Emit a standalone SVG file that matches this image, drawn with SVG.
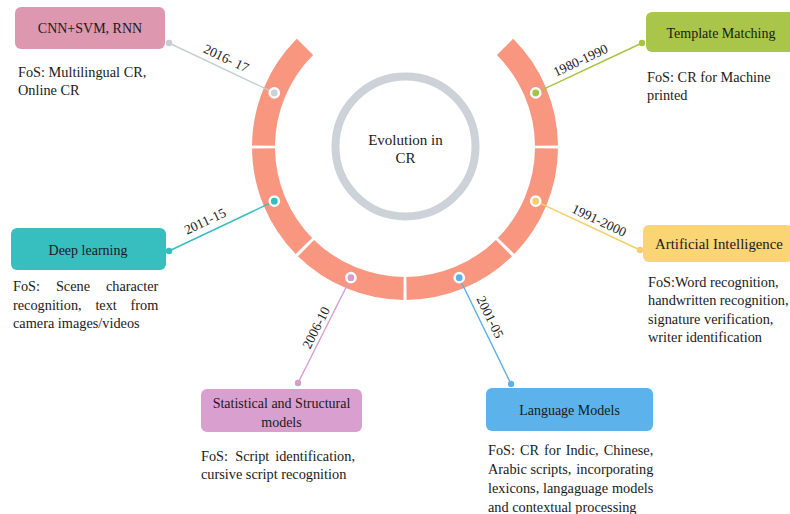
<svg xmlns="http://www.w3.org/2000/svg" width="790" height="514" viewBox="0 0 790 514">
  <style>
    text { font-family: "Liberation Serif", "Times New Roman", serif; fill: #1a1a1a; }
    .lbl { font-size: 14px; text-anchor: middle; }
    .fos { font-size: 14.3px; }
    .yr { font-size: 13.5px; text-anchor: middle; }
    .seg { fill: none; stroke: #F9967F; stroke-width: 23; }
    .conn { stroke-width: 1.4; fill: none; }
    .hub { stroke: #ffffff; stroke-width: 2.5; }
  </style>

  <rect width="790" height="514" fill="#ffffff"/>

  <!-- central hub -->
  <g id="hub">
    <circle cx="405.5" cy="146.5" r="70" fill="none" stroke="#CDD1D8" stroke-width="8"/>
    <text class="lbl" x="405.5" y="145" style="font-size:15px">Evolution in</text>
    <text class="lbl" x="405.5" y="163" style="font-size:15px">CR</text>
  </g>

  <!-- timeline ring, six 45-degree segments -->
  <g id="ring">
    <path class="seg" d="M505.06,46.94 A141.5,141.5 0 0 1 546.49,145.52"/>
    <path class="seg" d="M546.49,148.48 A141.5,141.5 0 0 1 506.10,246.00"/>
    <path class="seg" d="M504.00,248.10 A141.5,141.5 0 0 1 406.48,288.49"/>
    <path class="seg" d="M403.52,288.49 A141.5,141.5 0 0 1 306.00,248.10"/>
    <path class="seg" d="M303.90,246.00 A141.5,141.5 0 0 1 263.51,148.48"/>
    <path class="seg" d="M263.51,145.52 A141.5,141.5 0 0 1 304.94,46.94"/>
  </g>

  <!-- connectors from ring to nodes -->
  <g id="connectors">
    <line class="conn" x1="274.3" y1="92.9" x2="169" y2="43" stroke="#C8CCD3"/>
    <line class="conn" x1="535.7" y1="92.9" x2="642" y2="43" stroke="#A5C443"/>
    <line class="conn" x1="535.7" y1="201.2" x2="640" y2="250" stroke="#F8CE6A"/>
    <line class="conn" x1="459.2" y1="277.7" x2="511" y2="384" stroke="#5BB0E8"/>
    <line class="conn" x1="350.9" y1="277.7" x2="298" y2="383" stroke="#D59DCB"/>
    <line class="conn" x1="274.3" y1="201.2" x2="169" y2="251" stroke="#33BDBE"/>

    <circle cx="169" cy="43" r="3.2" fill="#C8CCD3"/>
    <circle cx="642" cy="43" r="3.2" fill="#A5C443"/>
    <circle cx="640" cy="250" r="3.2" fill="#F8CE6A"/>
    <circle cx="511" cy="384" r="3.2" fill="#5BB0E8"/>
    <circle cx="298" cy="383" r="3.2" fill="#D59DCB"/>
    <circle cx="169" cy="251" r="3.2" fill="#33BDBE"/>

    <circle class="hub" cx="274.3" cy="92.9" r="4.6" fill="#CCD0D7"/>
    <circle class="hub" cx="535.7" cy="92.9" r="4.6" fill="#A5C443"/>
    <circle class="hub" cx="535.7" cy="201.2" r="4.6" fill="#F8CE6A"/>
    <circle class="hub" cx="459.2" cy="277.7" r="4.6" fill="#5BB0E8"/>
    <circle class="hub" cx="350.9" cy="277.7" r="4.6" fill="#D59DCB"/>
    <circle class="hub" cx="274.3" cy="201.2" r="4.6" fill="#33BDBE"/>

    <!-- year labels along connectors -->
    <text class="yr" transform="translate(221.7,67.8) rotate(25.4)" y="-6">2016- 17</text>
    <text class="yr" transform="translate(585,69.8) rotate(-25.1)" y="-6">1980-1990</text>
    <text class="yr" transform="translate(595,229.1) rotate(25.2)" y="-5">1991-2000</text>
    <text class="yr" transform="translate(210,231.6) rotate(-25.3)" y="-7">2011-15</text>
    <text class="yr" transform="translate(324.6,332) rotate(-63.3)" y="-5">2006-10</text>
    <text class="yr" transform="translate(480.6,321.7) rotate(64)" y="-6">2001-05</text>
  </g>

  <g id="node-2016">
    <rect x="15" y="7" width="150" height="42" rx="6" fill="#DD98AF"/>
    <text class="lbl" x="90" y="33">CNN+SVM, RNN</text>
    <text class="fos" x="18" y="76.5">FoS: Multilingual CR,</text>
    <text class="fos" x="18" y="94.5">Online CR</text>
  </g>

  <g id="node-1980">
    <rect x="646" y="12" width="150" height="40" rx="6" fill="#A9C54A"/>
    <text class="lbl" x="721" y="37.5">Template Matching</text>
    <text class="fos" x="647" y="81.5">FoS: CR for Machine</text>
    <text class="fos" x="647" y="99.5">printed</text>
  </g>

  <g id="node-1991">
    <rect x="643" y="225" width="150" height="37" rx="6" fill="#FBD474"/>
    <text class="lbl" x="719" y="249" style="font-size:14.8px">Artificial Intelligence</text>
    <text class="fos" x="648" y="286.5">FoS:Word recognition,</text>
    <text class="fos" x="648" y="305">handwritten recognition,</text>
    <text class="fos" x="648" y="323.5">signature verification,</text>
    <text class="fos" x="648" y="342">writer identification</text>
  </g>

  <g id="node-2011">
    <rect x="11" y="228" width="155" height="42" rx="6" fill="#37BFBF"/>
    <text class="lbl" x="88" y="255">Deep learning</text>
    <text class="fos" y="291"><tspan x="13">FoS:</tspan><tspan x="55.9">Scene</tspan><tspan x="158.3" text-anchor="end">character</tspan></text>
    <text class="fos" y="309.5"><tspan x="13">recognition,</tspan><tspan x="95.4">text</tspan><tspan x="158.3" text-anchor="end">from</tspan></text>
    <text class="fos" x="13" y="328">camera images/videos</text>
  </g>

  <g id="node-2006">
    <rect x="201" y="389" width="161" height="43" rx="6" fill="#D9A0CF"/>
    <text class="lbl" x="281.5" y="407.5">Statistical and Structural</text>
    <text class="lbl" x="281.5" y="426.5">models</text>
    <text class="fos" y="461"><tspan x="201">FoS:</tspan><tspan x="235.2">Script</tspan><tspan x="355" text-anchor="end">identification,</tspan></text>
    <text class="fos" x="201" y="479">cursive script recognition</text>
  </g>

  <g id="node-2001">
    <rect x="486" y="388" width="167" height="43" rx="6" fill="#5CB3EC"/>
    <text class="lbl" x="569.5" y="415">Language Models</text>
    <text class="fos" y="455"><tspan x="488">FoS:</tspan><tspan x="520">CR</tspan><tspan x="544.1">for</tspan><tspan x="565.7">Indic,</tspan><tspan x="653.3" text-anchor="end">Chinese,</tspan></text>
    <text class="fos" y="473.5"><tspan x="488">Arabic scripts,</tspan><tspan x="653.3" text-anchor="end">incorporating</tspan></text>
    <text class="fos" y="492.5"><tspan x="488">lexicons,</tspan><tspan x="543">langaguage</tspan><tspan x="653.3" text-anchor="end">models</tspan></text>
    <text class="fos" x="488" y="511.5">and contextual processing</text>
  </g>
</svg>
